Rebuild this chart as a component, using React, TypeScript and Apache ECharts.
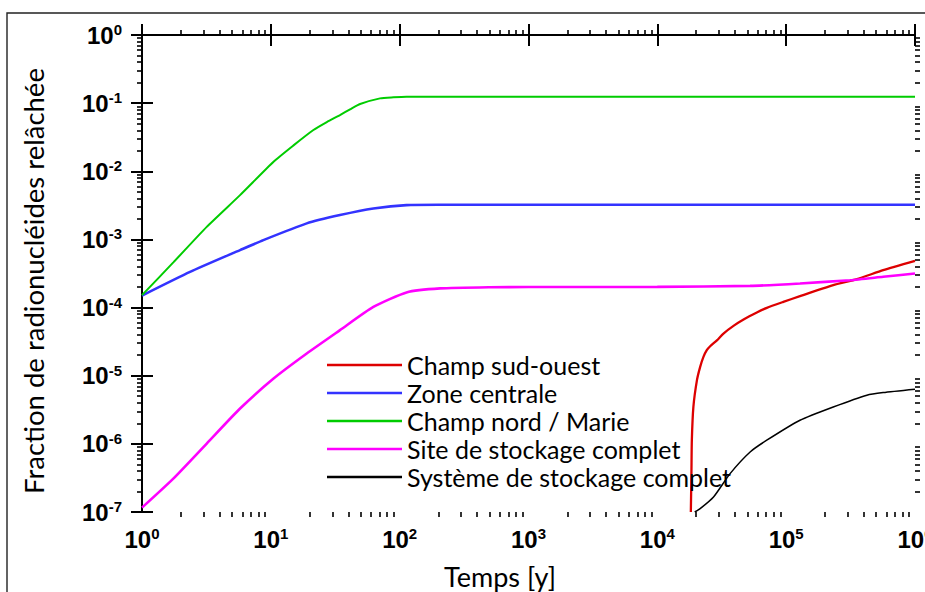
import React, { useEffect, useRef } from "react";
import * as echarts from "echarts";

// ---- data (time in years, released fraction) ----
const redT = [1.82e4, 1.84e4, 1.853e4, 1.905e4, 2.03e4, 2.15e4, 2.28e4, 2.42e4, 2.57e4, 2.9e4, 3.26e4, 3.9e4, 4.67e4, 5.92e4, 7.08e4, 9.5e4, 1.28e5, 2.32e5, 3.54e5, 5.66e5, 1e6];
const redV = [1e-7, 4e-7, 1.13e-6, 3.48e-6, 8.6e-6, 1.35e-5, 1.89e-5, 2.37e-5, 2.71e-5, 3.3e-5, 4.16e-5, 5.39e-5, 6.69e-5, 8.47e-5, 9.9e-5, 1.21e-4, 1.47e-4, 2.13e-4, 2.61e-4, 3.54e-4, 4.85e-4];

const blueT = [1, 2.36, 5.77, 8.75, 19, 34.4, 62.5, 113, 200, 1000, 1e4, 1e5, 1e6];
const blueV = [1.5e-4, 3.34e-4, 6.97e-4, 9.77e-4, 1.72e-3, 2.28e-3, 2.85e-3, 3.19e-3, 3.22e-3, 3.22e-3, 3.22e-3, 3.22e-3, 3.22e-3];

const greenT = [1, 1.75, 3.18, 5.77, 10.5, 15, 21.4, 27.2, 34.4, 41.2, 49.3, 70.4, 89.4, 113, 200, 1000, 1e4, 1e5, 1e6];
const greenV = [1.52e-4, 4.6e-4, 1.53e-3, 4.47e-3, 0.0138, 0.024, 0.0403, 0.0527, 0.0668, 0.081, 0.097, 0.1175, 0.1216, 0.124, 0.124, 0.124, 0.124, 0.124, 0.124];

const magT = [1, 1.75, 3.18, 5.77, 10.5, 19, 34.4, 62.5, 113, 206, 500, 1000, 1e4, 5.25e4, 1.28e5, 3.14e5, 5.66e5, 1e6];
const magV = [1.16e-7, 3.09e-7, 1.01e-6, 3.3e-6, 9.1e-6, 2.12e-5, 4.66e-5, 1.02e-4, 1.67e-4, 1.91e-4, 1.99e-4, 2.0e-4, 2.01e-4, 2.08e-4, 2.26e-4, 2.52e-4, 2.83e-4, 3.16e-4];

const blackT = [1.95e4, 2.15e4, 2.73e4, 3.67e4, 5.25e4, 7.07e4, 1.28e5, 2.32e5, 4.23e5, 5.66e5, 1e6];
const blackV = [1e-7, 1.12e-7, 1.66e-7, 3.66e-7, 7.6e-7, 1.13e-6, 2.22e-6, 3.48e-6, 5.18e-6, 5.66e-6, 6.34e-6];

const seriesNames = [
  "Champ sud-ouest",
  "Zone centrale",
  "Champ nord / Marie",
  "Site de stockage complet",
  "Système de stockage complet",
];
const seriesColors = ["#dd0000", "#3333ff", "#00cc00", "#ff00ff", "#000000"];
const seriesWidths = [2.3, 2.6, 2, 2.6, 1.5];

const X_MIN = 1;
const X_MAX = 1e6;
const Y_MIN = 1e-7;
const Y_MAX = 1;

const xTitle = "Temps [y]";
const yTitle = "Fraction de radionucléides relâchée";

// minor tick positions, in decades (log10 of 2..9 × 10^e)
const minorMultipliers = [2, 3, 4, 5, 6, 7, 8, 9];
const xMinorLog: number[] = [];
for (let e = 0; e < 6; e++) for (const m of minorMultipliers) xMinorLog.push(e + Math.log10(m));
const yMinorLog: number[] = [];
for (let e = -7; e < 0; e++) for (const m of minorMultipliers) yMinorLog.push(e + Math.log10(m));

const zip = (t: number[], v: number[]) => t.map((x, i) => [x, v[i]]);

const powLabel = (value: number) => {
  const e = Math.round(Math.log10(value));
  return `{b|10}{s|${e}}`;
};

const labelRich = {
  b: { fontFamily: "Liberation Sans", fontWeight: "bold", fontSize: 24, lineHeight: 26, color: "#000" },
  s: { fontFamily: "Liberation Sans", fontWeight: "bold", fontSize: 15, lineHeight: 15, verticalAlign: "top", color: "#000" },
};

export default function App() {
  const ref = useRef<HTMLDivElement>(null);
  useEffect(() => {
    if (!ref.current) return;
    const chart = echarts.init(ref.current, null, { renderer: "svg" });
    const axisLine = { show: true, lineStyle: { color: "#000", width: 2 } };
    const majorTick = { show: true, inside: false, length: 11, lineStyle: { color: "#000", width: 2 } };
    const dataSets = [zip(redT, redV), zip(blueT, blueV), zip(greenT, greenV), zip(magT, magV), zip(blackT, blackV)];

    const minorAxis = (pos: string, min: number, max: number, values: number[]) => ({
      type: "value",
      position: pos,
      min,
      max,
      axisLine: { show: false },
      splitLine: { show: false },
      axisLabel: { show: false },
      axisTick: { show: true, inside: false, length: 5, customValues: values, lineStyle: { color: "#000", width: 1.6 } },
      silent: true,
    });

    const option: any = {
      animation: false,
      backgroundColor: "#fff",
      grid: { left: 142, right: 10, top: 35, bottom: 80, containLabel: false, outerBoundsMode: "none" },
      xAxis: [
        {
          type: "log", logBase: 10, min: X_MIN, max: X_MAX, splitNumber: 6, position: "bottom",
          axisLine, axisTick: majorTick, splitLine: { show: false },
          axisLabel: { show: true, margin: 14, formatter: powLabel, rich: labelRich },
        },
        {
          type: "log", logBase: 10, min: X_MIN, max: X_MAX, splitNumber: 6, position: "top",
          axisLine, axisTick: majorTick, splitLine: { show: false }, axisLabel: { show: false },
        },
        minorAxis("bottom", 0, 6, xMinorLog),
        minorAxis("top", 0, 6, xMinorLog),
      ],
      yAxis: [
        {
          type: "log", logBase: 10, min: Y_MIN, max: Y_MAX, splitNumber: 7, position: "left",
          axisLine, axisTick: majorTick, splitLine: { show: false },
          axisLabel: { show: true, margin: 20, formatter: powLabel, rich: labelRich },
        },
        {
          type: "log", logBase: 10, min: Y_MIN, max: Y_MAX, splitNumber: 7, position: "right",
          axisLine, axisTick: majorTick, splitLine: { show: false }, axisLabel: { show: false },
        },
        minorAxis("left", -7, 0, yMinorLog),
        minorAxis("right", -7, 0, yMinorLog),
      ],
      legend: {
        data: seriesNames,
        orient: "vertical",
        left: 327,
        top: 351,
        padding: 0,
        icon: "rect",
        itemWidth: 75,
        itemHeight: 2.4,
        itemGap: 0,
        textStyle: { fontFamily: "Lato", fontSize: 25, lineHeight: 28, color: "#000" },
      },
      graphic: [
        {
          type: "rect", silent: true, z: -1,
          shape: { x: 7, y: 13, width: 1200, height: 1000 },
          style: { fill: "none", stroke: "#222", lineWidth: 1.4 },
        },
        {
          type: "text", x: 500, y: 576,
          style: { text: xTitle, fontFamily: "Lato", fontSize: 27, fill: "#000", align: "center", verticalAlign: "middle" },
        },
        {
          type: "text", x: 33, y: 281, rotation: Math.PI / 2,
          style: { text: yTitle, fontFamily: "Lato", fontSize: 27.5, fill: "#000", align: "center", verticalAlign: "middle" },
        },
      ],
      series: seriesNames.map((name, i) => ({
        name,
        type: "line",
        xAxisIndex: 0,
        yAxisIndex: 0,
        data: dataSets[i],
        symbol: "none",
        showSymbol: false,
        smooth: 0.2,
        lineStyle: { color: seriesColors[i], width: seriesWidths[i] },
        itemStyle: { color: seriesColors[i] },
        z: 3,
      })),
    };
    chart.setOption(option);
    return () => chart.dispose();
  }, []);

  return (
    <div
      ref={ref}
      style={{ position: "fixed", left: 0, top: 0, width: 925, height: 592, background: "#fff" }}
    />
  );
}
